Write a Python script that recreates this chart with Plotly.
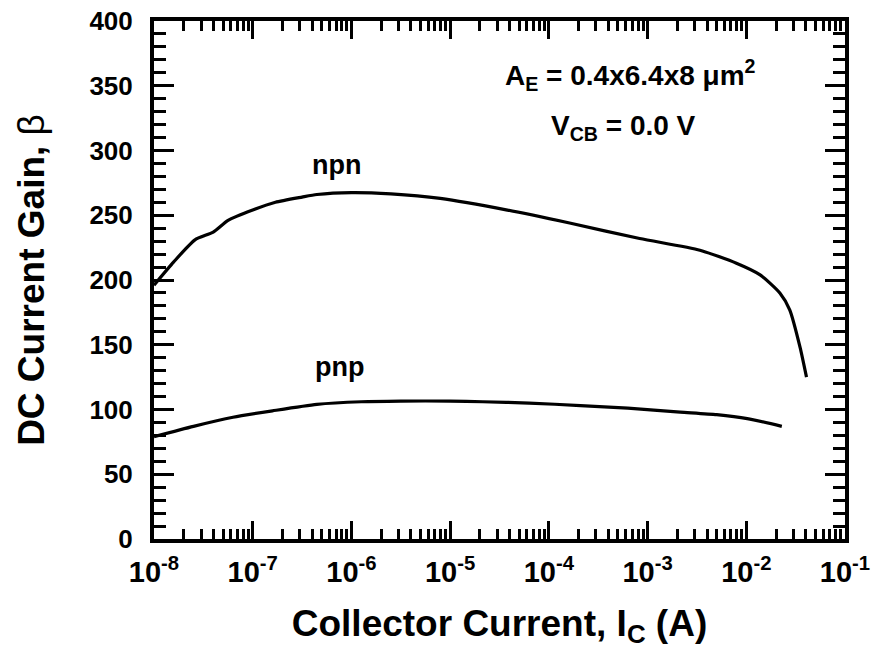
import plotly.graph_objects as go

# npn data: log10(Ic) and beta
npn_logic = [-8.0, -7.8, -7.585, -7.40, -7.25, -7.0, -6.77, -6.5, -6.35, -6.0, -5.6, -5.1,
             -4.42, -3.79, -3.08, -2.47, -2.1, -1.86, -1.66, -1.56, -1.455, -1.39]
npn_beta = [196, 214, 231, 237, 246, 254, 260, 264, 266, 267.5, 266.5, 263,
            254, 244, 232, 223, 213, 204, 190, 177, 148, 125]

pnp_logic = [-8.0, -7.6, -7.2, -6.8, -6.35, -5.9, -5.5, -5.0, -4.67, -4.2, -3.68, -3.2,
             -2.67, -2.3, -1.99, -1.64]
pnp_beta = [79, 87, 94, 99, 104, 106, 106.5, 106.5, 106, 105, 103, 101,
            98, 96, 93, 87]

x_tickvals = [1e-8, 1e-7, 1e-6, 1e-5, 1e-4, 1e-3, 1e-2, 1e-1]
x_ticktext = ["10<sup>-8</sup>", "10<sup>-7</sup>", "10<sup>-6</sup>", "10<sup>-5</sup>",
              "10<sup>-4</sup>", "10<sup>-3</sup>", "10<sup>-2</sup>", "10<sup>-1</sup>"]
y_tickvals = [0, 50, 100, 150, 200, 250, 300, 350, 400]

FONT = "Liberation Sans, Arial, sans-serif"

npn_x = [10 ** v for v in npn_logic]
pnp_x = [10 ** v for v in pnp_logic]

fig = go.Figure()
fig.add_trace(go.Scatter(x=npn_x, y=npn_beta, mode="lines", line=dict(color="black", width=3.2, shape="spline", smoothing=0.6), showlegend=False))
fig.add_trace(go.Scatter(x=pnp_x, y=pnp_beta, mode="lines", line=dict(color="black", width=3.2, shape="spline", smoothing=0.6), showlegend=False))

fig.update_layout(
    width=871, height=666,
    margin=dict(l=154, r=26, t=21, b=127, autoexpand=False),
    plot_bgcolor="white", paper_bgcolor="white",
    font=dict(family=FONT, color="black"),
    showlegend=False,
)

fig.update_xaxes(
    type="log", range=[-8, -1], automargin=False,
    tickvals=x_tickvals, ticktext=x_ticktext,
    tickfont=dict(size=29, family=FONT, weight="bold"),
    ticks="inside", ticklen=18, tickwidth=3, tickcolor="black",
    ticklabelstandoff=4,
    showline=True, linewidth=4, linecolor="black", mirror="allticks",
    showgrid=False, zeroline=False,
    minor=dict(ticks="inside", ticklen=10, tickwidth=3, tickcolor="black", dtick="D1", showgrid=False),
    title=dict(text="<b>Collector Current, I<sub>C</sub> (A)</b>", font=dict(size=37, family=FONT), standoff=24),
)
fig.update_yaxes(
    range=[0, 400], automargin=False,
    tickvals=y_tickvals,
    tickfont=dict(size=26, family=FONT, weight="bold"),
    ticks="inside", ticklen=20, tickwidth=3, tickcolor="black",
    ticklabelstandoff=12,
    showline=True, linewidth=4, linecolor="black", mirror="allticks",
    showgrid=False, zeroline=False,
    minor=dict(ticks="inside", ticklen=12, tickwidth=3, tickcolor="black", dtick=10, showgrid=False),
    title=dict(text="<b>DC Current Gain, </b>β", font=dict(size=37, family=FONT), standoff=34),
)

fig.add_annotation(x=-6.15, y=289, xref="x", yref="y", text="<b>npn</b>", showarrow=False,
                   font=dict(size=27, family=FONT))
fig.add_annotation(x=-6.12, y=133, xref="x", yref="y", text="<b>pnp</b>", showarrow=False,
                   font=dict(size=27, family=FONT))
fig.add_annotation(x=-3.17, y=358, xref="x", yref="y",
                   text="<b>A<sub>E</sub> = 0.4x6.4x8 μm<sup>2</sup></b>", showarrow=False,
                   font=dict(size=28, family=FONT))
fig.add_annotation(x=-3.24, y=318, xref="x", yref="y",
                   text="<b>V<sub>CB</sub> = 0.0 V</b>", showarrow=False,
                   font=dict(size=28, family=FONT))

fig.write_html("out.html")
